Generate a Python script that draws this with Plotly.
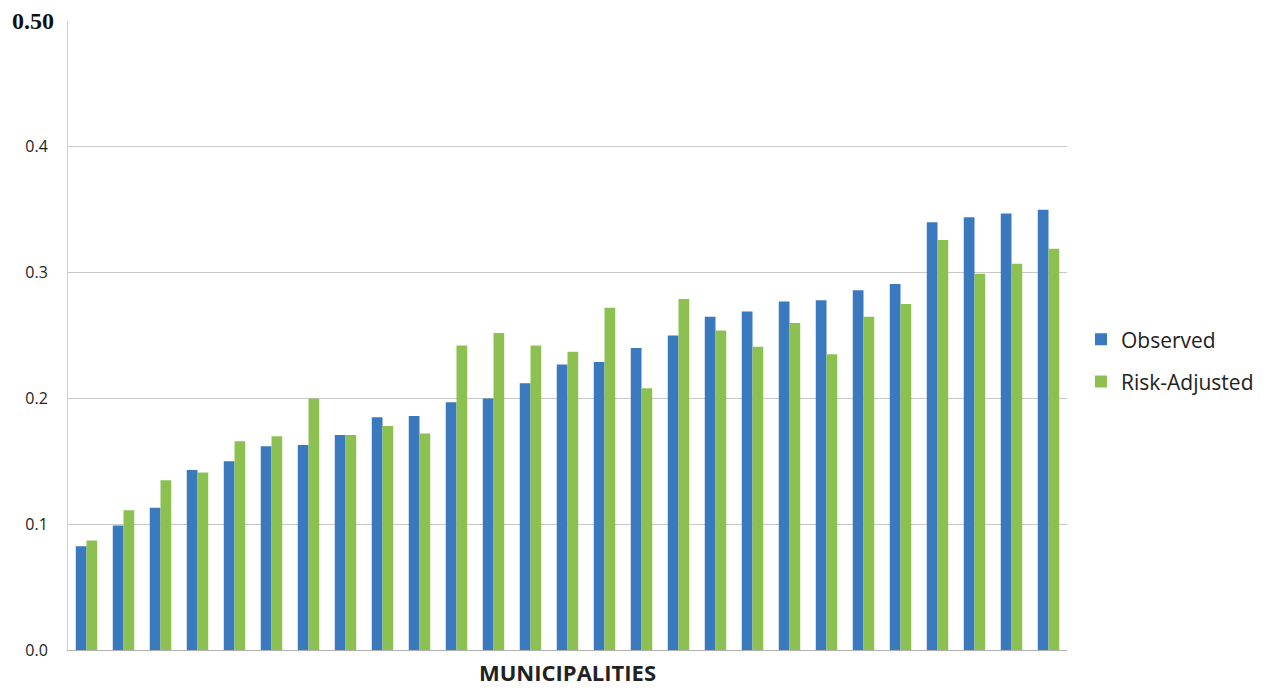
import plotly.graph_objects as go

municipalities = [f"M{i}" for i in range(1, 28)]
observed = [0.0825, 0.099, 0.113, 0.143, 0.150, 0.162, 0.163, 0.171, 0.185, 0.186,
            0.197, 0.200, 0.212, 0.227, 0.229, 0.240, 0.250, 0.265, 0.269, 0.277,
            0.278, 0.286, 0.291, 0.340, 0.344, 0.347, 0.350]
risk_adjusted = [0.087, 0.111, 0.135, 0.141, 0.166, 0.170, 0.200, 0.171, 0.178, 0.172,
                 0.242, 0.252, 0.242, 0.237, 0.272, 0.208, 0.279, 0.254, 0.241, 0.260,
                 0.235, 0.265, 0.275, 0.326, 0.299, 0.307, 0.319]
tick_vals = [0.0, 0.1, 0.2, 0.3, 0.4]
tick_text = ["0.0", "0.1", "0.2", "0.3", "0.4"]

fig = go.Figure()
fig.add_trace(go.Bar(x=municipalities, y=observed, name="Observed", legendgroup="a",
                     marker=dict(color="#3b79bf", line=dict(width=0))))
fig.add_trace(go.Bar(x=municipalities, y=risk_adjusted, name="Risk-Adjusted", legendgroup="b",
                     marker=dict(color="#8cc152", line=dict(width=0))))

fig.update_layout(
    width=1271, height=682,
    margin=dict(l=60, r=212, t=13, b=40),
    paper_bgcolor="white", plot_bgcolor="white",
    barmode="group", bargap=0.42, bargroupgap=0,
    font=dict(family="Open Sans, Liberation Sans, sans-serif", color="#222222"),
    legend=dict(x=1.014, y=0.46, xanchor="left", yanchor="middle",
                font=dict(size=21, color="#222222"), tracegroupgap=12,
                itemsizing="constant", bgcolor="rgba(0,0,0,0)"),
    showlegend=True,
    xaxis=dict(showticklabels=False, ticks="", showgrid=False,
               showline=True, linecolor="#b0b0b0", linewidth=1, zeroline=False),
    yaxis=dict(range=[0, 0.5], tickvals=tick_vals + [0.5], ticktext=tick_text + [""],
               showgrid=True, gridcolor="#c8c8c8", gridwidth=1,
               showline=True, linecolor="#d0d0d0", linewidth=1,
               zeroline=False, ticks="", ticklabelstandoff=16,
               tickfont=dict(size=16, color="#222222")),
)

fig.add_annotation(text="<b>0.50</b>", xref="paper", yref="paper", x=0, y=1,
                   xanchor="right", yanchor="middle", xshift=-12, showarrow=False,
                   font=dict(family="Liberation Serif, DejaVu Serif, serif", size=24, color="#111111"))
fig.add_annotation(text="<b>MUNICIPALITIES</b>", xref="paper", yref="paper", x=0.5, y=0,
                   xanchor="center", yanchor="top", yshift=-5, showarrow=False,
                   font=dict(size=22, color="#222222"))

fig.write_html("out.html")
